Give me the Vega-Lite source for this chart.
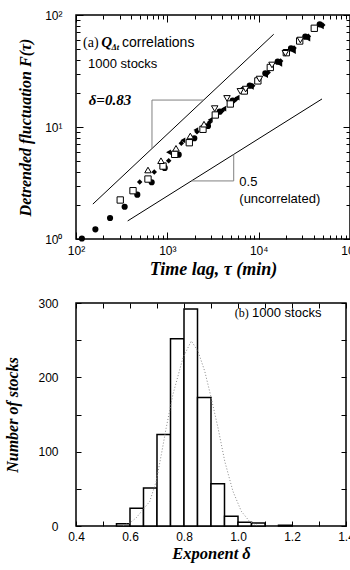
{
  "$schema": "https://vega.github.io/schema/vega-lite/v6.json",
  "padding": {"left": 4, "top": 8, "right": 7, "bottom": 0},
  "background": "white",
  "config": {
    "view": {"stroke": "black", "strokeWidth": 1.5},
    "axis": {
      "domain": false, "grid": false,
      "labelFont": "Liberation Sans", "labelFontSize": 12, "labelColor": "black",
      "tickColor": "black", "tickWidth": 1,
      "titleFont": "Liberation Serif", "titleFontStyle": "italic", "titleFontWeight": "bold",
      "titleFontSize": 16, "titleColor": "black",
      "labelFlush": false, "labelOverlap": false, "labelBound": false
    }
  },
  "datasets": {
    "pts": [
      {"s": "circle", "tau": 116, "F": 1.01}, {"s": "circle", "tau": 163, "F": 1.22}, {"s": "circle", "tau": 236, "F": 1.54},
      {"s": "circle", "tau": 341, "F": 1.94}, {"s": "circle", "tau": 469, "F": 2.49}, {"s": "circle", "tau": 674, "F": 3.21},
      {"s": "circle", "tau": 936, "F": 4.31}, {"s": "circle", "tau": 1332, "F": 5.66}, {"s": "circle", "tau": 1974, "F": 7.93},
      {"s": "circle", "tau": 2788, "F": 10.2}, {"s": "circle", "tau": 3745, "F": 13.7}, {"s": "circle", "tau": 5196, "F": 17.2},
      {"s": "circle", "tau": 6737, "F": 21.4}, {"s": "circle", "tau": 7980, "F": 23.4}, {"s": "circle", "tau": 11820, "F": 30.2},
      {"s": "circle", "tau": 16160, "F": 38.3}, {"s": "circle", "tau": 22600, "F": 50.4}, {"s": "circle", "tau": 32400, "F": 64.0},
      {"s": "circle", "tau": 46600, "F": 82.6},
      {"s": "diamond", "tau": 498, "F": 3.23}, {"s": "diamond", "tau": 719, "F": 3.97}, {"s": "diamond", "tau": 1035, "F": 5.0},
      {"s": "diamond", "tau": 1422, "F": 7.15}, {"s": "diamond", "tau": 2113, "F": 9.08}, {"s": "diamond", "tau": 2900, "F": 11.0},
      {"s": "diamond", "tau": 4000, "F": 14.0}, {"s": "diamond", "tau": 5600, "F": 17.6}, {"s": "diamond", "tau": 8600, "F": 23.3},
      {"s": "diamond", "tau": 12700, "F": 30.6}, {"s": "diamond", "tau": 17400, "F": 38.9}, {"s": "diamond", "tau": 24400, "F": 50.8},
      {"s": "diamond", "tau": 35000, "F": 64.5}, {"s": "diamond", "tau": 50300, "F": 81.5},
      {"s": "left", "tau": 1030, "F": 5.95}, {"s": "left", "tau": 1480, "F": 7.6}, {"s": "left", "tau": 2050, "F": 9.4},
      {"s": "left", "tau": 2950, "F": 11.6}, {"s": "left", "tau": 4150, "F": 14.6}, {"s": "left", "tau": 5800, "F": 18.3},
      {"s": "left", "tau": 8300, "F": 22.8}, {"s": "left", "tau": 11900, "F": 29.0}, {"s": "left", "tau": 17000, "F": 36.5},
      {"s": "left", "tau": 24000, "F": 47.5}, {"s": "left", "tau": 34500, "F": 61.5}, {"s": "left", "tau": 48500, "F": 79.0},
      {"s": "square", "tau": 305, "F": 2.23}, {"s": "square", "tau": 421, "F": 2.7}, {"s": "square", "tau": 614, "F": 3.43},
      {"s": "square", "tau": 897, "F": 4.48}, {"s": "square", "tau": 1204, "F": 5.7}, {"s": "square", "tau": 1740, "F": 7.24},
      {"s": "square", "tau": 2457, "F": 9.54}, {"s": "square", "tau": 3351, "F": 12.8}, {"s": "square", "tau": 4891, "F": 16.05},
      {"s": "square", "tau": 6962, "F": 20.96}, {"s": "square", "tau": 9800, "F": 25.8}, {"s": "square", "tau": 13410, "F": 34.0},
      {"s": "square", "tau": 20080, "F": 46.1}, {"s": "square", "tau": 28140, "F": 58.6}, {"s": "square", "tau": 40640, "F": 76.1},
      {"s": "up", "tau": 614, "F": 4.13}, {"s": "up", "tau": 852, "F": 5.0}, {"s": "up", "tau": 1244, "F": 6.45},
      {"s": "up", "tau": 1784, "F": 8.31}, {"s": "up", "tau": 2521, "F": 10.6},
      {"s": "down", "tau": 3300, "F": 14.6}, {"s": "down", "tau": 4500, "F": 18.0}, {"s": "down", "tau": 6300, "F": 20.8},
      {"s": "down", "tau": 7200, "F": 21.8}, {"s": "down", "tau": 10200, "F": 26.8}, {"s": "down", "tau": 14000, "F": 35.8},
      {"s": "down", "tau": 19600, "F": 45.5}, {"s": "down", "tau": 28600, "F": 59.8}
    ],
    "segs": [
      {"k": "black", "tau": 153, "F": 2.05, "tau2": 14610, "F2": 67.3},
      {"k": "black", "tau": 368, "F": 1.45, "tau2": 49370, "F2": 17.8},
      {"k": "grey", "tau": 679, "F": 6.42, "tau2": 679, "F2": 17.4},
      {"k": "grey", "tau": 679, "F": 17.4, "tau2": 2500, "F2": 17.4},
      {"k": "grey", "tau": 1834, "F": 3.3, "tau2": 5330, "F2": 3.3},
      {"k": "grey", "tau": 5330, "F": 3.3, "tau2": 5330, "F2": 5.7}
    ],
    "hist": [
      {"lo": 0.55, "hi": 0.6, "n": 3}, {"lo": 0.6, "hi": 0.65, "n": 24}, {"lo": 0.65, "hi": 0.7, "n": 51},
      {"lo": 0.7, "hi": 0.75, "n": 123}, {"lo": 0.75, "hi": 0.8, "n": 252}, {"lo": 0.8, "hi": 0.85, "n": 292},
      {"lo": 0.85, "hi": 0.9, "n": 173}, {"lo": 0.9, "hi": 0.95, "n": 57}, {"lo": 0.95, "hi": 1.0, "n": 13},
      {"lo": 1.0, "hi": 1.05, "n": 5}, {"lo": 1.05, "hi": 1.1, "n": 4}, {"lo": 1.15, "hi": 1.2, "n": 1}
    ],
    "fit": [
      {"d": 0.575, "n": 1}, {"d": 0.599, "n": 4}, {"d": 0.623, "n": 11}, {"d": 0.648, "n": 22}, {"d": 0.673, "n": 33},
      {"d": 0.697, "n": 60}, {"d": 0.716, "n": 96}, {"d": 0.734, "n": 132}, {"d": 0.759, "n": 177}, {"d": 0.796, "n": 226},
      {"d": 0.827, "n": 249}, {"d": 0.852, "n": 235}, {"d": 0.877, "n": 208}, {"d": 0.901, "n": 172}, {"d": 0.926, "n": 132},
      {"d": 0.951, "n": 87}, {"d": 0.981, "n": 47}, {"d": 1.012, "n": 20}, {"d": 1.043, "n": 6}, {"d": 1.07, "n": 1}
    ]
  },
  "concat": [
    {
      "width": 274, "height": 224,
      "encoding": {
        "x": {"field": "tau", "type": "quantitative", "scale": {"type": "log", "domain": [100, 100000], "nice": false}, "axis": null},
        "y": {"field": "F", "type": "quantitative", "scale": {"type": "log", "domain": [1, 100], "nice": false}, "axis": null}
      },
      "layer": [
        {
          "data": {"name": "segs"},
          "transform": [{"filter": "datum.k == 'black'"}],
          "mark": {"type": "rule", "color": "black", "strokeWidth": 1},
          "encoding": {
            "x": {"field": "tau", "type": "quantitative", "scale": {"type": "log", "domain": [100, 100000], "nice": false},
              "axis": {"orient": "bottom", "title": "Time lag, τ (min)", "titleFontSize": 18,
                "values": [100, 200, 300, 400, 500, 600, 700, 800, 900, 1000, 2000, 3000, 4000, 5000, 6000, 7000, 8000, 9000, 10000, 20000, 30000, 40000, 50000, 60000, 70000, 80000, 90000, 100000],
                "labelExpr": "datum.value == 100 ? '10²' : datum.value == 1000 ? '10³' : datum.value == 10000 ? '10⁴' : datum.value == 100000 ? '10⁵' : ''",
                "tickSize": {"condition": {"test": "indexof([100, 1000, 10000, 100000], datum.value) >= 0", "value": -7}, "value": -4},
                "labelPadding": 13, "titlePadding": 1}},
            "y": {"field": "F", "type": "quantitative", "scale": {"type": "log", "domain": [1, 100], "nice": false},
              "axis": {"orient": "left", "title": "Detrended fluctuation F(τ)",
                "values": [1, 2, 3, 4, 5, 6, 7, 8, 9, 10, 20, 30, 40, 50, 60, 70, 80, 90, 100],
                "labelExpr": "datum.value == 1 ? '10⁰' : datum.value == 10 ? '10¹' : datum.value == 100 ? '10²' : ''",
                "tickSize": {"condition": {"test": "indexof([1, 10, 100], datum.value) >= 0", "value": -7}, "value": -4},
                "labelPadding": 21, "titlePadding": 11}},
            "x2": {"field": "tau2"},
            "y2": {"field": "F2"}
          }
        },
        {
          "data": {"name": "segs"},
          "transform": [{"filter": "datum.k == 'grey'"}],
          "mark": {"type": "rule", "color": "#808080", "strokeWidth": 1},
          "encoding": {
            "x": {"field": "tau", "type": "quantitative", "scale": {"type": "log", "domain": [100, 100000], "nice": false},
              "axis": {"orient": "top", "title": null, "labels": false,
                "values": [100, 200, 300, 400, 500, 600, 700, 800, 900, 1000, 2000, 3000, 4000, 5000, 6000, 7000, 8000, 9000, 10000, 20000, 30000, 40000, 50000, 60000, 70000, 80000, 90000, 100000],
                "tickSize": {"condition": {"test": "indexof([100, 1000, 10000, 100000], datum.value) >= 0", "value": -7}, "value": -4}}},
            "y": {"field": "F", "type": "quantitative", "scale": {"type": "log", "domain": [1, 100], "nice": false},
              "axis": {"orient": "right", "title": null, "labels": false,
                "values": [1, 2, 3, 4, 5, 6, 7, 8, 9, 10, 20, 30, 40, 50, 60, 70, 80, 90, 100],
                "tickSize": {"condition": {"test": "indexof([1, 10, 100], datum.value) >= 0", "value": -7}, "value": -4}}},
            "x2": {"field": "tau2"},
            "y2": {"field": "F2"}
          }
        },
        {"data": {"name": "pts"}, "transform": [{"filter": "datum.s == 'circle'"}],
          "mark": {"type": "point", "shape": "circle", "filled": true, "color": "black", "opacity": 1, "size": 38}},
        {"data": {"name": "pts"}, "transform": [{"filter": "datum.s == 'diamond'"}],
          "mark": {"type": "point", "shape": "diamond", "filled": true, "color": "black", "opacity": 1, "size": 30}},
        {"data": {"name": "pts"}, "transform": [{"filter": "datum.s == 'left'"}],
          "mark": {"type": "point", "shape": "triangle-left", "filled": true, "color": "black", "opacity": 1, "size": 32}},
        {"data": {"name": "pts"}, "transform": [{"filter": "datum.s == 'square'"}],
          "mark": {"type": "point", "shape": "square", "filled": false, "fill": "white", "fillOpacity": 1, "stroke": "black", "strokeWidth": 1, "opacity": 1, "size": 40}},
        {"data": {"name": "pts"}, "transform": [{"filter": "datum.s == 'up'"}],
          "mark": {"type": "point", "shape": "triangle-up", "filled": false, "fill": "white", "fillOpacity": 1, "stroke": "black", "strokeWidth": 1, "opacity": 1, "size": 42}},
        {"data": {"name": "pts"}, "transform": [{"filter": "datum.s == 'down'"}],
          "mark": {"type": "point", "shape": "triangle-down", "filled": false, "fill": "white", "fillOpacity": 1, "stroke": "black", "strokeWidth": 1, "opacity": 1, "size": 42}},
        {"data": {"values": [{"label": "(a)", "tau": 119.3, "F": 52.3}]},
          "mark": {"type": "text", "font": "Liberation Serif", "fontSize": 14, "align": "left", "baseline": "alphabetic", "color": "black"},
          "encoding": {"text": {"field": "label"}}},
        {"data": {"values": [{"label": "Q", "tau": 189, "F": 52.3}, {"label": "δ=0.83", "tau": 137.7, "F": 15.56}]},
          "mark": {"type": "text", "font": "Liberation Serif", "fontSize": 15, "fontStyle": "italic", "fontWeight": "bold", "align": "left", "baseline": "alphabetic", "color": "black"},
          "encoding": {"text": {"field": "label"}}},
        {"data": {"values": [{"label": "Δt", "tau": 245, "F": 48.2}]},
          "mark": {"type": "text", "font": "Liberation Serif", "fontSize": 8.5, "fontStyle": "italic", "fontWeight": "bold", "align": "left", "baseline": "alphabetic", "color": "black"},
          "encoding": {"text": {"field": "label"}}},
        {"data": {"values": [{"label": "correlations", "tau": 319, "F": 52.3}]},
          "mark": {"type": "text", "font": "Liberation Sans", "fontSize": 14, "align": "left", "baseline": "alphabetic", "color": "black"},
          "encoding": {"text": {"field": "label"}}},
        {"data": {"values": [{"label": "1000 stocks", "tau": 135.3, "F": 33.6}, {"label": "0.5", "tau": 6138, "F": 2.943}, {"label": "(uncorrelated)", "tau": 6138, "F": 2.096}]},
          "mark": {"type": "text", "font": "Liberation Sans", "fontSize": 13, "align": "left", "baseline": "alphabetic", "color": "black"},
          "encoding": {"text": {"field": "label"}}}
      ],
      "resolve": {"axis": {"x": "independent", "y": "independent"}}
    },
    {
      "width": 270, "height": 223,
      "encoding": {
        "x": {"field": "d", "type": "quantitative", "scale": {"domain": [0.4, 1.4], "nice": false, "zero": false}, "axis": null},
        "y": {"field": "n", "type": "quantitative", "scale": {"domain": [0, 300], "nice": false}, "axis": null}
      },
      "layer": [
        {
          "data": {"name": "hist"},
          "mark": {"type": "bar", "fill": "white", "stroke": "black", "strokeWidth": 1.5},
          "encoding": {
            "x": {"field": "lo", "type": "quantitative", "scale": {"domain": [0.4, 1.4], "nice": false, "zero": false},
              "axis": {"orient": "bottom", "title": "Exponent δ", "titleFontSize": 16.5,
                "values": [0.4, 0.5, 0.6, 0.7, 0.8, 0.9, 1.0, 1.1, 1.2, 1.3, 1.4],
                "labelExpr": "round(datum.value * 10) % 2 == 0 ? format(datum.value, '.1f') : ''",
                "tickSize": -5, "labelPadding": 10, "titlePadding": 3}},
            "x2": {"field": "hi"},
            "y": {"field": "n", "type": "quantitative", "scale": {"domain": [0, 300], "nice": false},
              "axis": {"orient": "left", "title": "Number of stocks", "titleFontSize": 16,
                "values": [0, 50, 100, 150, 200, 250, 300],
                "labelExpr": "datum.value % 100 == 0 ? datum.label : ''",
                "tickSize": -5, "labelPadding": 23, "titlePadding": 17}},
            "y2": {"datum": 0}
          }
        },
        {
          "data": {"name": "fit"},
          "mark": {"type": "line", "color": "#888888", "strokeWidth": 1, "strokeDash": [1, 2]},
          "encoding": {
            "x": {"field": "d", "type": "quantitative", "scale": {"domain": [0.4, 1.4], "nice": false, "zero": false},
              "axis": {"orient": "top", "title": null, "labels": false, "values": [0.4, 0.5, 0.6, 0.7, 0.8, 0.9, 1.0, 1.1, 1.2, 1.3, 1.4], "tickSize": -5}},
            "y": {"field": "n", "type": "quantitative", "scale": {"domain": [0, 300], "nice": false},
              "axis": {"orient": "right", "title": null, "labels": false, "values": [0, 50, 100, 150, 200, 250, 300], "tickSize": -5}}
          }
        },
        {"data": {"values": [{"label": "(b)", "d": 0.9878, "n": 281}]},
          "mark": {"type": "text", "font": "Liberation Serif", "fontSize": 12, "align": "left", "baseline": "alphabetic", "color": "black"},
          "encoding": {"text": {"field": "label"}}},
        {"data": {"values": [{"label": "1000 stocks", "d": 1.052, "n": 281}]},
          "mark": {"type": "text", "font": "Liberation Sans", "fontSize": 13, "align": "left", "baseline": "alphabetic", "color": "black"},
          "encoding": {"text": {"field": "label"}}}
      ],
      "resolve": {"axis": {"x": "independent", "y": "independent"}}
    }
  ],
  "columns": 1,
  "align": "none",
  "spacing": 17
}
